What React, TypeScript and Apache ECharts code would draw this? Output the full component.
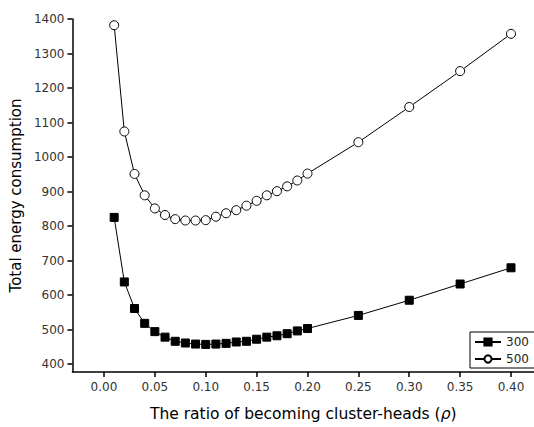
import React, { useEffect, useRef } from "react";
import * as echarts from "echarts";

const ratios = [0.01, 0.02, 0.03, 0.04, 0.05, 0.06, 0.07, 0.08, 0.09, 0.1, 0.11, 0.12, 0.13, 0.14, 0.15, 0.16, 0.17, 0.18, 0.19, 0.2, 0.25, 0.3, 0.35, 0.4];
const nodes300 = [825, 638, 561, 518, 494, 478, 466, 461, 458, 457, 458, 460, 464, 466, 472, 478, 482, 488, 496, 503, 541, 585, 632, 679];
const nodes500 = [1382, 1074, 951, 889, 851, 832, 820, 816, 816, 817, 827, 837, 846, 859, 873, 889, 901, 915, 932, 952, 1043, 1145, 1249, 1357];
const xTicks = [0, 0.05, 0.1, 0.15, 0.2, 0.25, 0.3, 0.35, 0.4];
const yTicks = [400, 500, 600, 700, 800, 900, 1000, 1100, 1200, 1300, 1400];
const seriesNames = ["300", "500"];

export default function App() {
  const ref = useRef<HTMLDivElement>(null);
  useEffect(() => {
    if (!ref.current) return;
    const chart = echarts.init(ref.current, null, { renderer: "svg" });
    const font = "'DejaVu Sans', sans-serif";
    chart.setOption({
      animation: false,
      backgroundColor: "#fff",
      textStyle: { fontFamily: font },
      grid: { left: 68, top: 19, bottom: 52, right: -8, containLabel: false },
      legend: {
        orient: "vertical",
        left: 470,
        top: 332,
        data: seriesNames,
        itemWidth: 26,
        itemHeight: 9,
        itemGap: 5,
        padding: [4, 20, 3, 4],
        borderColor: "#000",
        borderWidth: 1,
        borderRadius: 0,
        textStyle: { color: "#222", fontSize: 12, fontFamily: font, padding: [0, 0, 0, 0] },
      },
      xAxis: {
        type: "value",
        min: -0.031,
        max: 0.4226,
        name: "The ratio of becoming cluster-heads ({i|ρ})",
        nameLocation: "middle",
        nameGap: 34,
        nameTextStyle: {
          color: "#000",
          fontSize: 15.5,
          fontFamily: font,
          rich: { i: { fontStyle: "italic", fontSize: 15.5, fontFamily: font, color: "#000" } },
        },
        splitLine: { show: false },
        axisLine: { onZero: false, lineStyle: { color: "#000", width: 1.5 } },
        axisTick: { customValues: xTicks, length: 5, inside: false, lineStyle: { color: "#000", width: 1.5 } },
        axisLabel: {
          customValues: xTicks,
          margin: 9,
          fontSize: 12,
          color: "#333",
          fontFamily: font,
          formatter: (v: number) => v.toFixed(2),
        },
      },
      yAxis: {
        type: "value",
        min: 377,
        max: 1400,
        name: "Total energy consumption",
        nameLocation: "middle",
        nameGap: 48,
        nameTextStyle: { color: "#000", fontSize: 15, fontFamily: font },
        splitLine: { show: false },
        axisLine: { onZero: false, lineStyle: { color: "#000", width: 1.5 } },
        axisTick: { customValues: yTicks, length: 5, lineStyle: { color: "#000", width: 1.5 } },
        axisLabel: {
          customValues: yTicks,
          margin: 8,
          fontSize: 12,
          color: "#333",
          fontFamily: font,
          formatter: (v: number) => String(v),
        },
      },
      series: [
        {
          name: seriesNames[0],
          type: "line",
          data: ratios.map((x, i) => [x, nodes300[i]]),
          symbol: "rect",
          symbolSize: 8,
          lineStyle: { color: "#000", width: 1 },
          itemStyle: { color: "#000", borderColor: "#000", borderWidth: 1 },
          z: 3,
        },
        {
          name: seriesNames[1],
          type: "line",
          data: ratios.map((x, i) => [x, nodes500[i]]),
          symbol: "circle",
          symbolSize: 9,
          showAllSymbol: true,
          lineStyle: { color: "#000", width: 1 },
          itemStyle: { color: "#fff", borderColor: "#000", borderWidth: 1 },
          z: 3,
        },
      ],
    });
    return () => chart.dispose();
  }, []);
  return (
    <div style={{ position: "absolute", left: 0, top: 0, width: 534, height: 427, overflow: "hidden", background: "#fff" }}>
      <div ref={ref} style={{ width: 534, height: 427 }} />
    </div>
  );
}
